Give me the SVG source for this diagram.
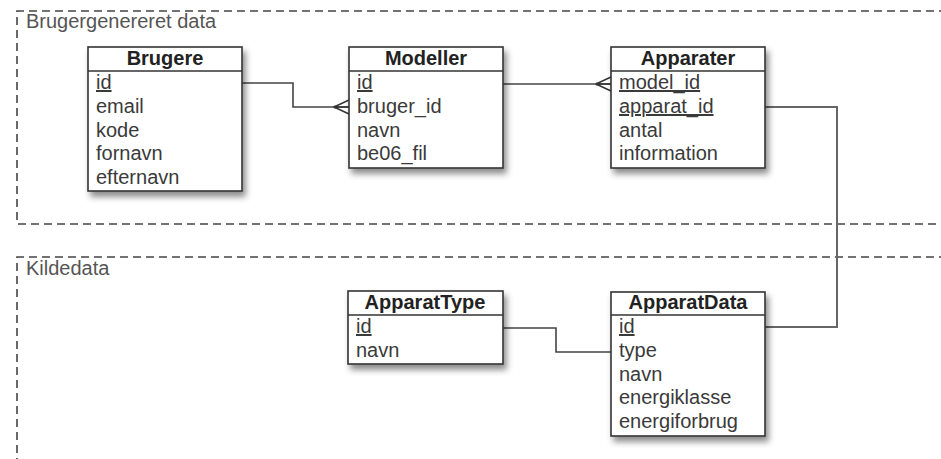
<svg xmlns="http://www.w3.org/2000/svg" width="941" height="459" viewBox="0 0 941 459">
<defs>
<filter id="sh" x="-10%" y="-10%" width="130%" height="140%">
<feDropShadow dx="3" dy="5" stdDeviation="3" flood-color="#000" flood-opacity="0.45"/>
</filter>
<marker id="crow" markerUnits="userSpaceOnUse" markerWidth="20" markerHeight="20" refX="16" refY="10" orient="auto">
<path d="M1,10 L16,3 M1,10 L16,10 M1,10 L16,17" fill="none" stroke="#333" stroke-width="1.4"/>
<circle cx="2" cy="10" r="1.6" fill="#333"/>
</marker>
</defs>
<style>
.grp{fill:none;stroke:#444;stroke-width:1.6;stroke-dasharray:8 5}
.glabel{font-family:"Liberation Sans",Arial,sans-serif;font-size:20px;fill:#555}
.box{fill:#fff;stroke:#333;stroke-width:1.6}
.sep{stroke:#333;stroke-width:1.6}
.title{font-family:"Liberation Sans",Arial,sans-serif;font-size:20px;font-weight:bold;fill:#222;text-anchor:middle}
.row{font-family:"Liberation Sans",Arial,sans-serif;font-size:20px;fill:#3a3a3a}
.pk{text-decoration:underline}
.conn{fill:none;stroke:#444;stroke-width:1.6}
</style>
<rect width="941" height="459" fill="#fff"/>
<g id="group-brugergenereret">
<path class="grp" d="M960,11 L17,11 L17,224 L960,224"/>
<text class="glabel" x="26" y="28">Brugergenereret data</text>
</g>
<g id="group-kildedata">
<path class="grp" d="M960,257 L17,257 L17,470"/>
<text class="glabel" x="26" y="275">Kildedata</text>
</g>
<g id="connectors">
<path class="conn" d="M242,83 H293 V107 H349" marker-end="url(#crow)"/>
<path class="conn" d="M503,84 H611" marker-end="url(#crow)"/>
<path class="conn" d="M765,107 H837 V327 H765" style="stroke:#666;stroke-width:2"/>
<path class="conn" d="M503,328 H556 V352 H611"/>
</g>
<g id="brugere">
<rect class="box" x="88" y="47" width="154" height="144" filter="url(#sh)"/>
<line class="sep" x1="88" y1="71" x2="242" y2="71"/>
<text class="title" x="165" y="65">Brugere</text>
<text class="row pk" x="96" y="89">id</text>
<text class="row" x="96" y="113">email</text>
<text class="row" x="96" y="137">kode</text>
<text class="row" x="96" y="160">fornavn</text>
<text class="row" x="96" y="184">efternavn</text>
</g>
<g id="modeller">
<rect class="box" x="349" y="47" width="154" height="121" filter="url(#sh)"/>
<line class="sep" x1="349" y1="71" x2="503" y2="71"/>
<text class="title" x="426" y="65">Modeller</text>
<text class="row pk" x="357" y="89">id</text>
<text class="row" x="357" y="113">bruger_id</text>
<text class="row" x="357" y="137">navn</text>
<text class="row" x="357" y="160">be06_fil</text>
</g>
<g id="apparater">
<rect class="box" x="611" y="47" width="154" height="121" filter="url(#sh)"/>
<line class="sep" x1="611" y1="71" x2="765" y2="71"/>
<text class="title" x="688" y="65">Apparater</text>
<text class="row pk" x="619" y="89">model_id</text>
<text class="row pk" x="619" y="113">apparat_id</text>
<text class="row" x="619" y="137">antal</text>
<text class="row" x="619" y="160">information</text>
</g>
<g id="apparattype">
<rect class="box" x="348" y="291" width="155" height="73" filter="url(#sh)"/>
<line class="sep" x1="348" y1="315" x2="503" y2="315"/>
<text class="title" x="425" y="309">ApparatType</text>
<text class="row pk" x="356" y="333">id</text>
<text class="row" x="356" y="357">navn</text>
</g>
<g id="apparatdata">
<rect class="box" x="611" y="292" width="154" height="144" filter="url(#sh)"/>
<line class="sep" x1="611" y1="315" x2="765" y2="315"/>
<text class="title" x="688" y="309">ApparatData</text>
<text class="row pk" x="619" y="333">id</text>
<text class="row" x="619" y="357">type</text>
<text class="row" x="619" y="381">navn</text>
<text class="row" x="619" y="404">energiklasse</text>
<text class="row" x="619" y="428">energiforbrug</text>
</g>
</svg>
